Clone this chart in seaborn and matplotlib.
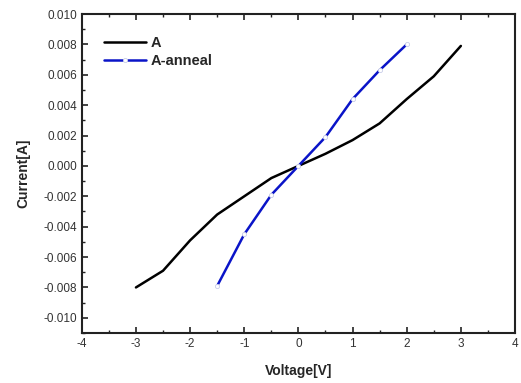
import matplotlib
matplotlib.use("Agg")
import matplotlib.pyplot as plt
import seaborn as sns
import pandas as pd
from matplotlib.ticker import MultipleLocator

voltage_a = [-3, -2.5, -2, -1.5, -1, -0.5, 0, 0.5, 1, 1.5, 2, 2.5, 3]
current_a = [-0.0080, -0.0069, -0.0049, -0.0032, -0.0020, -0.0008, 0.0, 0.0008, 0.0017, 0.0028, 0.0044, 0.0059, 0.0079]
voltage_b = [-1.5, -1, -0.5, 0, 0.5, 1, 1.5, 2]
current_b = [-0.0079, -0.0045, -0.0019, 0.0, 0.0019, 0.0044, 0.0063, 0.0080]
xticks = [-4, -3, -2, -1, 0, 1, 2, 3, 4]
yticks = [-0.010, -0.008, -0.006, -0.004, -0.002, 0.000, 0.002, 0.004, 0.006, 0.008, 0.010]

df_a = pd.DataFrame({"Voltage": voltage_a, "Current": current_a})
df_b = pd.DataFrame({"Voltage": voltage_b, "Current": current_b})

sns.set_style("ticks")
plt.rcParams["font.family"] = ["Liberation Sans", "DejaVu Sans"]

fig = plt.figure(figsize=(5.21, 3.83), dpi=100)
ax = fig.add_axes([0.157, 0.1305, 0.8315, 0.8329])

sns.lineplot(data=df_a, x="Voltage", y="Current", ax=ax, color="black", lw=1.8, label="A")
sns.lineplot(data=df_b, x="Voltage", y="Current", ax=ax, color="#0a14c8", lw=1.8,
             marker="o", markersize=3, markerfacecolor="white",
             markeredgecolor="#c8cce8", markeredgewidth=0.6, label="A-anneal")

ax.set_xlim(-4, 4)
ax.set_ylim(-0.011, 0.010)
ax.set_xticks(xticks)
ax.set_yticks(yticks)
ax.set_xticklabels([str(t) for t in xticks])
ax.set_yticklabels([f"{t:.3f}" for t in yticks])
ax.xaxis.set_minor_locator(MultipleLocator(0.5))
ax.yaxis.set_minor_locator(MultipleLocator(0.001))
ax.tick_params(axis="both", which="major", direction="in", length=4, width=1.2,
               labelsize=8.5, labelcolor="#333333", color="#222222", top=True, right=False)
ax.tick_params(axis="both", which="minor", direction="in", length=2, width=1.0,
               color="#222222", top=True, right=False)
for s in ax.spines.values():
    s.set_linewidth(1.5)
    s.set_color("#222222")

ax.set_xlabel("Voltage[V]", fontsize=10, fontweight="bold", labelpad=10)
ax.set_ylabel("Current[A]", fontsize=10, fontweight="bold", labelpad=9)

leg = ax.legend(loc="upper left", bbox_to_anchor=(0.0, 1.0), frameon=False,
                handlelength=2.9, handletextpad=0.3, borderaxespad=1.1,
                labelspacing=0.3, prop={"weight": "bold", "size": 10.5})

fig.savefig("out.png", dpi=100)
